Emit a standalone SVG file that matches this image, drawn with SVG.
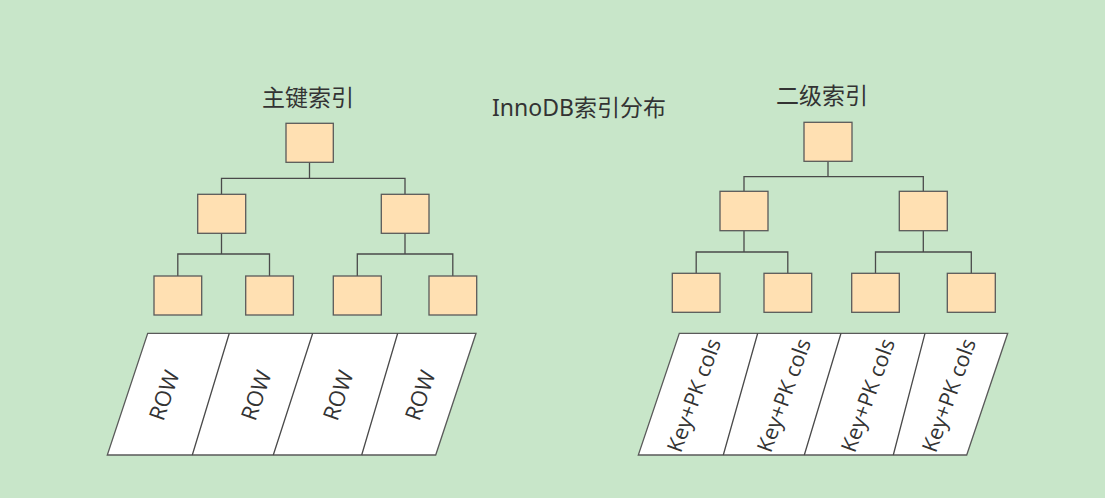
<svg xmlns="http://www.w3.org/2000/svg" width="1105" height="498" viewBox="0 0 1105 498">
<style>
.bg{fill:#C8E6C9}
.box{fill:#FFE0B2;stroke:#5a5a5a;stroke-width:1.3}
.par{fill:#FFFFFF;stroke:#5a5a5a;stroke-width:1.3}
.ln{fill:none;stroke:#4a4a4a;stroke-width:1.3}
.title{font-family:"Noto Sans","Noto Sans CJK SC",sans-serif;font-size:23px;fill:#333333}
.cell{font-family:"Open Sans","Noto Sans",sans-serif;font-size:21.5px;fill:#333333;text-anchor:middle;dominant-baseline:central}
.row{font-size:22px}
</style>
<rect class="bg" x="0" y="0" width="1105" height="498"/>
<g id="titles">
<text id="t-pk" class="title" x="262" y="106">主键索引</text>
<text id="t-main" class="title" x="492" y="116">InnoDB索引分布</text>
<text id="t-sec" class="title" x="776" y="104">二级索引</text>
</g>
<g id="connectors">
<path class="ln" d="M309.5 162.3V178.3M221.5 194.3V178.3H405V194.3"/>
<path class="ln" d="M221.5 233.3V254M177.8 276V254H269.5V276"/>
<path class="ln" d="M405 233.3V254M357.3 276V254H452.8V276"/>
<path class="ln" d="M828 161.3V176.7M744 191.3V176.7H923.3V191.3"/>
<path class="ln" d="M744 230.7V252M696.2 273.3V252H787.8V273.3"/>
<path class="ln" d="M923.3 230.7V252M875.5 273.3V252H971.3V273.3"/>
</g>
<g id="pk-root"><rect class="box" x="286" y="123.3" width="47.3" height="39"/></g>
<g id="pk-mid-left"><rect class="box" x="197.7" y="194.3" width="48" height="39"/></g>
<g id="pk-mid-right"><rect class="box" x="381.3" y="194.3" width="47.7" height="39"/></g>
<g id="pk-leaf1"><rect class="box" x="154" y="276" width="47.7" height="39"/></g>
<g id="pk-leaf2"><rect class="box" x="245.7" y="276" width="47.7" height="39"/></g>
<g id="pk-leaf3"><rect class="box" x="333.3" y="276" width="48" height="39"/></g>
<g id="pk-leaf4"><rect class="box" x="429" y="276" width="47.7" height="39"/></g>
<g id="sk-root"><rect class="box" x="804" y="122.3" width="48" height="39"/></g>
<g id="sk-mid-left"><rect class="box" x="720" y="191.3" width="48" height="39.4"/></g>
<g id="sk-mid-right"><rect class="box" x="899.3" y="191.3" width="48" height="39.4"/></g>
<g id="sk-leaf1"><rect class="box" x="672.3" y="273.3" width="47.7" height="39"/></g>
<g id="sk-leaf2"><rect class="box" x="764" y="273.3" width="47.7" height="39"/></g>
<g id="sk-leaf3"><rect class="box" x="851.7" y="273.3" width="47.6" height="39"/></g>
<g id="sk-leaf4"><rect class="box" x="947.3" y="273.3" width="48" height="39"/></g>
<g id="pk-rows">
<path class="par" d="M147.7 333.3H476L435.7 455H107.3Z"/>
<path class="ln" d="M229.3 333.3L192.3 455M312.7 333.3L273.3 455M397.7 333.3L361.7 455"/>
<text class="cell row" transform="translate(163 395) rotate(-71)">ROW</text>
<text class="cell row" transform="translate(255 395) rotate(-71)">ROW</text>
<text class="cell row" transform="translate(337 395) rotate(-71)">ROW</text>
<text class="cell row" transform="translate(419 395) rotate(-71)">ROW</text>
</g>
<g id="sk-rows">
<path class="par" d="M679.3 333.3H1007.7L966.7 455H638.3Z"/>
<path class="ln" d="M757.7 333.3L723.3 455M841 333.3L804.3 455M925 333.3L893.3 455"/>
<text class="cell" transform="translate(693 395) rotate(-70)">Key+PK cols</text>
<text class="cell" transform="translate(783 395) rotate(-70)">Key+PK cols</text>
<text class="cell" transform="translate(867 395) rotate(-70)">Key+PK cols</text>
<text class="cell" transform="translate(948 395) rotate(-70)">Key+PK cols</text>
</g>
</svg>
